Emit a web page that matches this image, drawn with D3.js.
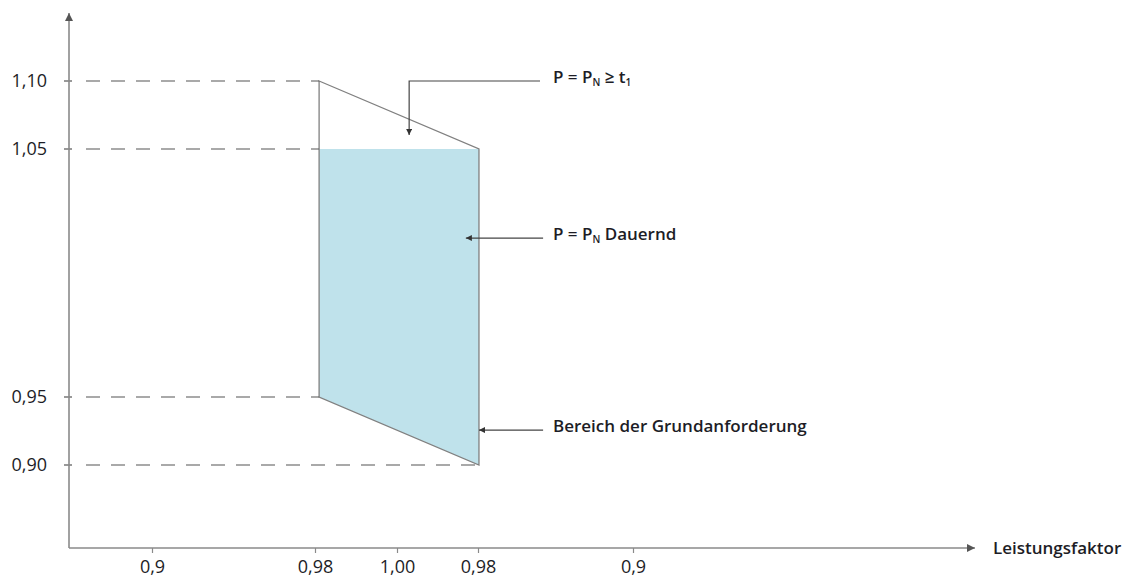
<!DOCTYPE html>
<html><head><meta charset="utf-8">
<script src="https://cdn.jsdelivr.net/npm/d3@7"></script>
<style>body{margin:0;background:#fff} text{font-family:"Open Sans",sans-serif;fill:#1d1d26}</style>
</head><body><svg id="c" width="1131" height="577"></svg>
<script>
// ---- data ----
const xTickValues = [-0.1, -0.02, 0, 0.02, 0.1];
const xTickLabels = ["0,9", "0,98", "1,00", "0,98", "0,9"];
const yTickValues = [0.90, 0.95, 1.05, 1.10];
const yTickLabels = ["0,90", "0,95", "1,05", "1,10"];
const gridEnds = [0.0205, -0.019, -0.019, -0.019];
const outlinePts = [[-0.019, 1.10], [0.0205, 1.05], [0.0205, 0.90], [-0.019, 0.95]];
const fillPts = [[-0.019, 1.05], [0.0205, 1.05], [0.0205, 0.90], [-0.019, 0.95]];
const annoText = [["P = P", "N", "  ≥ t", "1"], ["P = P", "N", " Dauernd"], ["Bereich der Grundanforderung"]];
const annoLines = [
  [[0.052, 1.10], [0.003, 1.10], [0.003, 1.0603]],
  [[0.0536, 1.0141], [0.017, 1.0141]],
  [[0.0536, 0.9257], [0.0205, 0.9257]]
];
const annoPos = [[0.0587, 1.10], [0.0587, 1.0141], [0.0587, 0.9257]];
const xAxisTitle = "Leistungsfaktor";

// ---- layout ----
const svg = d3.select("#c");
const axisX0 = 69, axisY0 = 548, axisXEnd = 975, axisYTop = 13;
const x = d3.scaleLinear().domain(xTickValues).range([152, 315, 397, 478, 633]);
const y = d3.scaleLinear().domain(yTickValues).range([465, 397, 149, 81]);

const defs = svg.append("defs");
function marker(id, color, w, h) {
  defs.append("marker").attr("id", id).attr("viewBox", "0 0 10 10").attr("refX", 10).attr("refY", 5)
    .attr("markerWidth", w).attr("markerHeight", h).attr("markerUnits", "userSpaceOnUse").attr("orient", "auto")
    .append("path").attr("d", "M0,0L10,5L0,10Z").attr("fill", color);
}
marker("ax", "#555", 8, 8);
marker("an", "#333", 7, 6);

// fill
const line = d3.line().x(d => x(d[0])).y(d => y(d[1]));
svg.append("path").attr("d", line(fillPts) + "Z").attr("fill", "#bfe2eb").attr("stroke", "none");
svg.append("path").attr("d", line(outlinePts) + "Z").attr("fill", "none").attr("stroke", "#808080").attr("stroke-width", 1.3);

// dashed gridlines
yTickValues.forEach((v, i) => {
  svg.append("line").attr("x1", axisX0 - 5).attr("x2", axisX0 + 3).attr("y1", y(v)).attr("y2", y(v))
    .attr("stroke", "#555").attr("stroke-width", 1.2);
  svg.append("line").attr("x1", axisX0 + 17).attr("x2", x(gridEnds[i])).attr("y1", y(v)).attr("y2", y(v))
    .attr("stroke", "#555").attr("stroke-width", 1.2).attr("stroke-dasharray", "14,11");
  svg.append("text").attr("x", 47).attr("y", y(v)).attr("dy", "0.35em").attr("text-anchor", "end")
    .attr("font-size", 18).text(yTickLabels[i]);
});

// axes
svg.append("line").attr("x1", axisX0).attr("x2", axisX0).attr("y1", axisY0).attr("y2", axisYTop)
  .attr("stroke", "#8a8a8a").attr("stroke-width", 1.6).attr("marker-end", "url(#ax)");
svg.append("line").attr("x1", axisX0).attr("x2", axisXEnd).attr("y1", axisY0).attr("y2", axisY0)
  .attr("stroke", "#8a8a8a").attr("stroke-width", 1.6).attr("marker-end", "url(#ax)");

const xa = svg.append("g").attr("transform", `translate(0,${axisY0})`)
  .call(d3.axisBottom(x).tickValues(xTickValues).tickSize(5).tickFormat((d, i) => xTickLabels[i]));
xa.select(".domain").remove();
xa.selectAll("line").attr("stroke", "#8a8a8a").attr("stroke-width", 1.2);
xa.selectAll("text").attr("font-size", 18).attr("font-family", "Open Sans").attr("fill", "#1d1d26").attr("dy", "0.95em");

svg.append("text").attr("x", 993).attr("y", axisY0).attr("dy", "0.35em").attr("font-size", 17)
  .attr("font-weight", 600).text(xAxisTitle);

// annotations
annoLines.forEach(pts => {
  svg.append("path").attr("d", line(pts)).attr("fill", "none").attr("stroke", "#444").attr("stroke-width", 1.2)
    .attr("marker-end", "url(#an)");
});
annoText.forEach((parts, i) => {
  const t = svg.append("text").attr("x", x(annoPos[i][0])).attr("y", y(annoPos[i][1])).attr("dy", "0.1em")
    .attr("font-size", 17).attr("font-weight", 600);
  parts.forEach((p, j) => {
    const sub = j % 2 === 1;
    t.append("tspan").attr("font-size", sub ? 10 : 17).attr("dy", sub ? "0.35em" : (j > 0 ? "-0.21em" : null)).text(p);
  });
});
</script></body></html>
